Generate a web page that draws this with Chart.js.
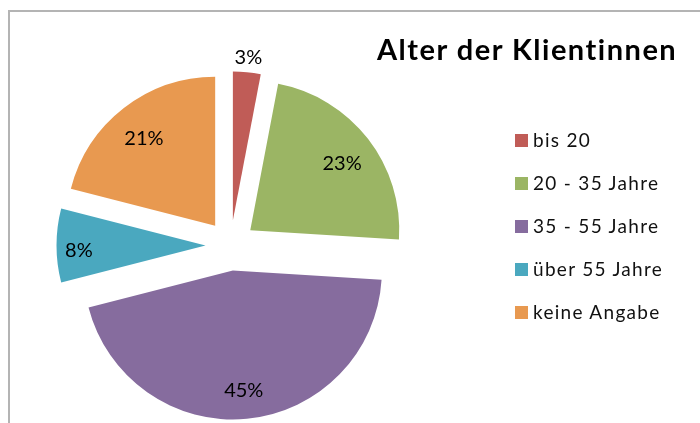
<!DOCTYPE html>
<html>
<head>
<meta charset="utf-8">
<script src="https://cdn.jsdelivr.net/npm/chart.js@4.4.1/dist/chart.umd.min.js"></script>
<style>
    html, body { margin: 0; padding: 0; background: #fff; }
    #wrap { position: relative; width: 700px; height: 423px; overflow: hidden; font-family: Lato, "Open Sans", sans-serif; }
    #frame { position: absolute; left: 8px; top: 10px; width: 760px; height: 480px; border-left: 2px solid #b4b4b4; border-top: 2px solid #b4b4b4; }
    #pie { position: absolute; left: 0; top: 0; }
    #title { position: absolute; left: 377px; top: 34px; font-size: 29px; line-height: 29px; font-weight: bold; letter-spacing: 1.5px; color: #000; white-space: nowrap; }
    .legend-row { position: absolute; left: 515px; height: 20px; display: flex; align-items: center; font-size: 19px; line-height: 20px; letter-spacing: 1.3px; color: #111; white-space: nowrap; }
    .legend-box { width: 13px; height: 13px; margin-right: 5px; flex: none; }
</style>
</head>
<body>
<div id="wrap">
    <div id="frame"></div>
    <canvas id="pie" width="700" height="423"></canvas>
    <div id="title"></div>
    <div id="legend"></div>
</div>
<script>
// =========================
// DATEN
// =========================
const chartTitle = "Alter der Klientinnen";
const labels = ["bis 20", "20 - 35 Jahre", "35 - 55 Jahre", "über 55 Jahre", "keine Angabe"];
const shares = [3, 23, 45, 8, 21];
const colors = ["#C05C57", "#9BB564", "#866C9E", "#4AA8BF", "#E89950"];

// =========================
// LAYOUT
// =========================
const PIE_RADIUS = 149;
const EXPLODE = 25;      // px, wie weit die Stücke auseinander stehen
const LEGEND_TOP = 141;  // Mitte der ersten Legendenzeile
const LEGEND_STEP = 43;
const LABEL_SIZE = 20;
const LABEL_FONT = LABEL_SIZE + "px Lato";

// Chart.js v4 verschiebt bei "offset" nur um offset/4 und macht kleine
// Stücke dabei größer und schmaler -> hier wieder gerade ziehen
const explodeFix = {
    id: "explodeFix",
    afterDatasetUpdate(chart, args) {
        const R = args.meta.controller.outerRadius;
        args.meta.data.forEach(arc => {
            const extra = EXPLODE * (1 - Math.sin(Math.min(Math.PI, arc.circumference)));
            const d = extra / (2 * Math.PI * R);
            arc.outerRadius = R - extra;
            arc.startAngle -= d;
            arc.endAngle += d;
        });
    }
};

// Prozentwerte in / an den Stücken
const pctLabels = {
    id: "pctLabels",
    afterDatasetsDraw(chart) {
        const ctx = chart.ctx;
        const meta = chart.getDatasetMeta(0);
        const R = meta.controller.outerRadius;
        const total = shares.reduce((a, b) => a + b, 0);

        ctx.save();
        ctx.font = LABEL_FONT;
        ctx.fillStyle = "#000";
        ctx.textAlign = "center";
        ctx.textBaseline = "alphabetic";

        meta.data.forEach((arc, i) => {
            const pct = Math.round(shares[i] / total * 100);
            const mid = (arc.startAngle + arc.endAngle) / 2;
            const outside = pct < 5;
            let r = outside ? R + 16 : (pct < 10 ? R * 0.85 : R * 0.78);
            r += EXPLODE;
            const x = arc.x + Math.cos(mid) * r;
            // Ziffern mittig auf den Punkt setzen, innen etwas tiefer wie in Excel
            const y = arc.y + Math.sin(mid) * r + LABEL_SIZE * 0.36 + (outside ? 0 : 4);
            ctx.fillText(pct + "%", x, y);
        });

        ctx.restore();
    }
};

// =========================
// CHART
// =========================
function renderChart() {
    new Chart(document.getElementById("pie"), {
        type: "pie",
        data: {
            labels,
            datasets: [{
                data: shares,
                backgroundColor: colors,
                borderWidth: 0,
                offset: EXPLODE * 4
            }]
        },
        options: {
            responsive: false,
            animation: false,
            events: [],
            radius: PIE_RADIUS,
            layout: { padding: { left: 0, top: 68, right: 239, bottom: 0 } },
            plugins: {
                legend: { display: false },
                tooltip: { enabled: false }
            }
        },
        plugins: [explodeFix, pctLabels]
    });
}

// =========================
// TITEL + LEGENDE
// =========================
document.getElementById("title").textContent = chartTitle;

const legend = document.getElementById("legend");
labels.forEach((label, i) => {
    const row = document.createElement("div");
    row.className = "legend-row";
    row.style.top = (LEGEND_TOP + i * LEGEND_STEP - 11) + "px";

    const box = document.createElement("span");
    box.className = "legend-box";
    box.style.background = colors[i];

    const text = document.createElement("span");
    text.textContent = label;

    row.appendChild(box);
    row.appendChild(text);
    legend.appendChild(row);
});

// Canvas nimmt Lato erst, wenn die Schrift geladen ist
document.fonts.load(LABEL_FONT).then(renderChart, renderChart);
</script>
</body>
</html>
